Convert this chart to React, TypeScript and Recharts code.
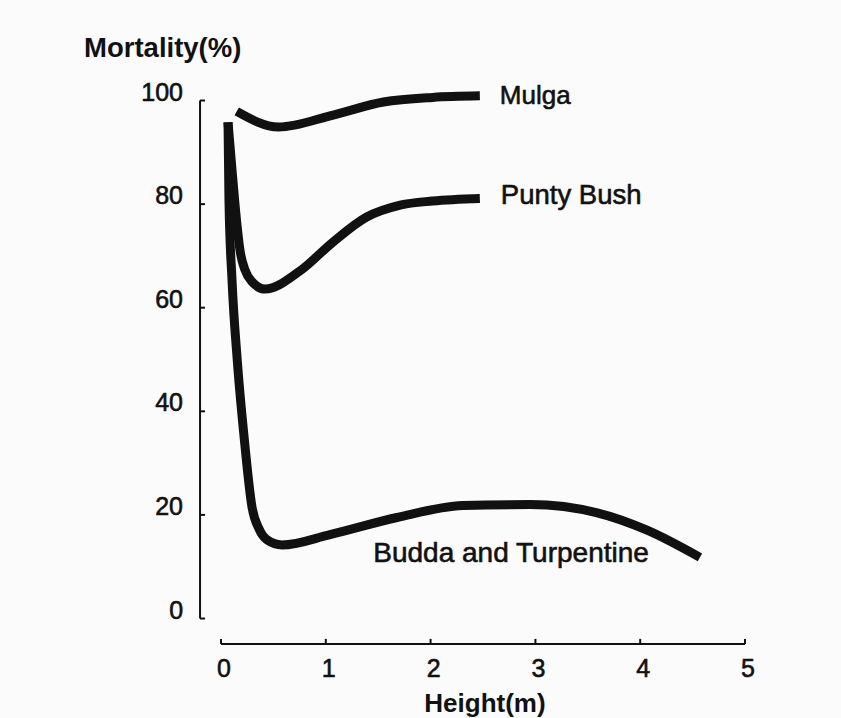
import React from 'react';
import { LineChart, Line, XAxis, YAxis, ReferenceLine, LabelList, Label } from 'recharts';

// ---- data ----
const heightTicks = [0, 1, 2, 3, 4, 5];
const mortalityTicks = [0, 20, 40, 60, 80, 100];

const seriesNames = ['Mulga', 'Punty Bush', 'Budda and Turpentine'];

const mulgaHeight = [0.15, 0.55, 1.07, 1.55, 2.02, 2.47];
const mulgaMortality = [97.9, 94.9, 97.2, 99.7, 100.6, 100.9];

const puntyHeight = [0.067, 0.105, 0.148, 0.181, 0.229, 0.296, 0.42, 0.754, 1.07, 1.39, 1.71, 2.02, 2.47];
const puntyMortality = [95.8, 86.6, 76.9, 71.1, 67.3, 65.0, 63.6, 67.1, 72.7, 77.5, 79.8, 80.6, 81.1];

const buddaHeight = [0.067, 0.076, 0.105, 0.155, 0.223, 0.296, 0.363, 0.439, 0.582, 1.04, 1.68, 2.31, 2.95, 3.59, 4.06, 4.57];
const buddaMortality = [95.8, 80.8, 65.4, 49.9, 34.5, 21.5, 17.3, 15.2, 14.2, 16.2, 19.5, 21.8, 22.0, 20.4, 17.1, 11.8];

const xAxisTitle = 'Height(m)';
const yAxisTitle = 'Mortality(%)';

const toPoints = (h: number[], v: number[]) => h.map((x, i) => ({ h: x, v: v[i] }));
const mulgaData = toPoints(mulgaHeight, mulgaMortality);
const puntyData = toPoints(puntyHeight, puntyMortality);
const buddaData = toPoints(buddaHeight, buddaMortality);

const INK = '#111111';
const FONT = '"Liberation Sans", Arial, Helvetica, sans-serif';

const YTick = (props: any) => {
  const { x, y, payload } = props;
  return (
    <g>
      <line x1={x} x2={x + 5} y1={y} y2={y} stroke={INK} strokeWidth={2} />
      <text x={x - 17} y={y} textAnchor="end" fontSize={25} fontFamily={FONT} fill={INK} stroke={INK} strokeWidth={0.6}>
        {payload.value}
      </text>
    </g>
  );
};

const XTick = (props: any) => {
  const { x, y, payload } = props;
  return (
    <g>
      <line x1={x} x2={x} y1={y} y2={y - 5} stroke={INK} strokeWidth={2} />
      <text x={x + 3} y={y + 33} textAnchor="middle" fontSize={25} fontFamily={FONT} fill={INK} stroke={INK} strokeWidth={0.6}>
        {payload.value}
      </text>
    </g>
  );
};

const makeSeriesLabel = (text: string, index: number, dx: number, dy: number, anchor: string, size: number) =>
  (props: any) => {
    if (props.index !== index) return null;
    return (
      <text
        x={props.x + dx}
        y={props.y + dy}
        textAnchor={anchor as any}
        fontSize={size}
        fontFamily={FONT}
        fill={INK}
        stroke={INK}
        strokeWidth={0.6}
      >
        {text}
      </text>
    );
  };

const lineProps = {
  dataKey: 'v',
  type: 'monotone' as const,
  stroke: INK,
  strokeWidth: 9,
  dot: false,
  isAnimationActive: false,
  strokeLinecap: 'butt' as const,
  strokeLinejoin: 'round' as const,
};

export default function App() {
  return (
    <div style={{ position: 'absolute', left: 0, top: 0, width: 841, height: 718, background: '#fbfbfb' }}>
      <LineChart
        width={841}
        height={718}
        margin={{ top: 69.42, right: 75.04, bottom: 14.1, left: 120.04 }}
      >
        <XAxis
          type="number"
          dataKey="h"
          domain={[-0.2, 5.2]}
          allowDataOverflow
          ticks={heightTicks}
          interval={0}
          axisLine={false}
          tickLine={false}
          tickSize={0}
          tickMargin={0}
          height={60}
          tick={<XTick />}
        >
          <Label
            content={(p: any) => {
              const vb = p.viewBox;
              return (
                <text x={vb.x + vb.width / 2 + 2} y={vb.y + 68} textAnchor="middle" fontSize={26} fontWeight="bold" fontFamily={FONT} fill={INK}>
                  {xAxisTitle}
                </text>
              );
            }}
          />
        </XAxis>
        <YAxis
          type="number"
          domain={[-4.9, 106]}
          allowDataOverflow
          ticks={mortalityTicks}
          interval={0}
          axisLine={false}
          tickLine={false}
          tickSize={0}
          tickMargin={0}
          width={80}
          tick={<YTick />}
        >
          <Label
            content={(p: any) => {
              const vb = p.viewBox;
              return (
                <text x={vb.x - 36} y={vb.y - 12.4} textAnchor="start" fontSize={27.5} fontWeight="bold" fontFamily={FONT} fill={INK}>
                  {yAxisTitle}
                </text>
              );
            }}
          />
        </YAxis>
        <ReferenceLine
          segment={[{ x: -0.2, y: 0 }, { x: -0.2, y: 100 }]}
          stroke={INK}
          strokeWidth={2}
          ifOverflow="visible"
        />
        <ReferenceLine
          segment={[{ x: 0, y: -4.9 }, { x: 5, y: -4.9 }]}
          stroke={INK}
          strokeWidth={2}
          ifOverflow="visible"
        />
        <Line data={mulgaData} name={seriesNames[0]} {...lineProps}>
          <LabelList dataKey="v" content={makeSeriesLabel(seriesNames[0], mulgaData.length - 1, 20, 8, 'start', 26)} />
        </Line>
        <Line data={puntyData} name={seriesNames[1]} {...lineProps}>
          <LabelList dataKey="v" content={makeSeriesLabel(seriesNames[1], puntyData.length - 1, 21, 6, 'start', 27.5)} />
        </Line>
        <Line data={buddaData} name={seriesNames[2]} {...lineProps}>
          <LabelList dataKey="v" content={makeSeriesLabel(seriesNames[2], 11, 48, 56, 'middle', 28)} />
        </Line>
      </LineChart>
    </div>
  );
}
